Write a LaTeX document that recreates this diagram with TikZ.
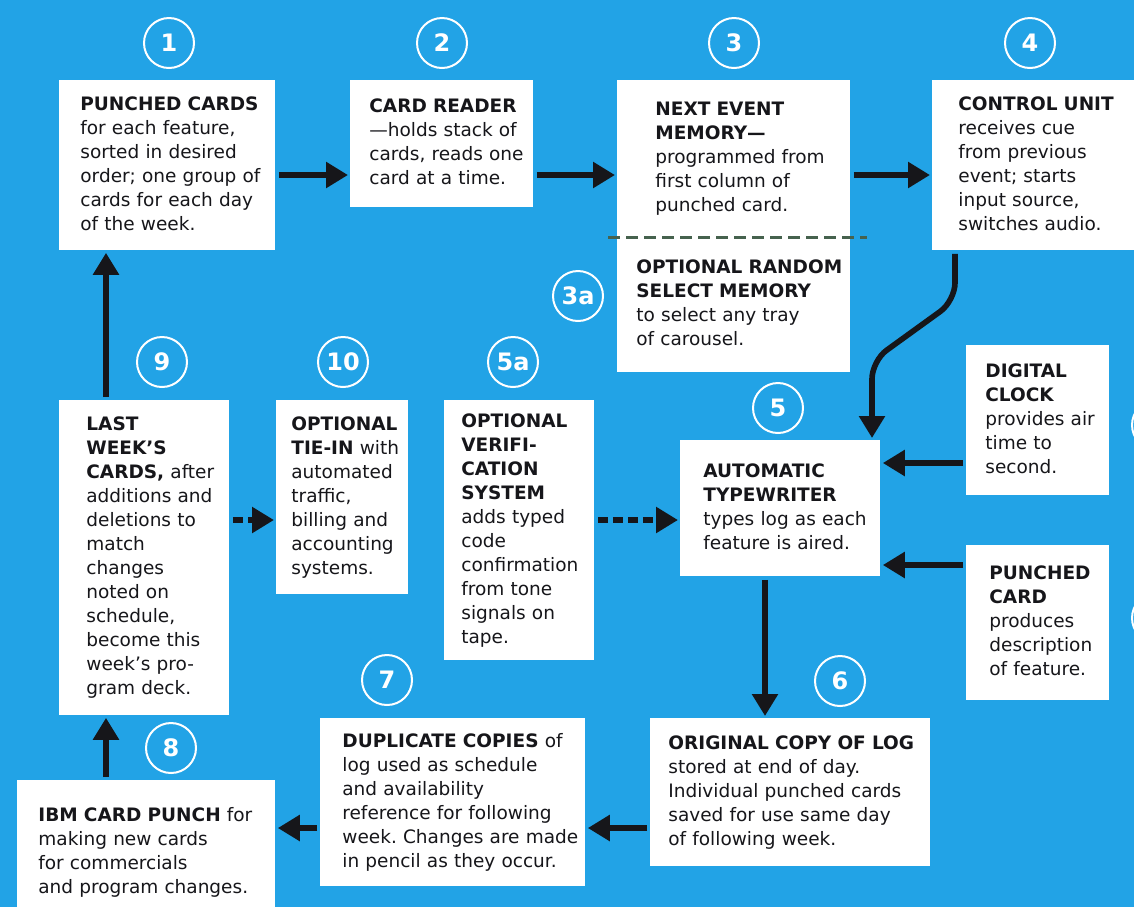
\documentclass[tikz,border=0pt]{standalone}
\usepackage{fontspec}
\setmainfont{DejaVu Sans}
\usetikzlibrary{arrows.meta}
\definecolor{sky}{RGB}{34,163,230}
\definecolor{ink}{RGB}{22,22,26}
\definecolor{seam}{RGB}{70,98,78}
\newcommand{\rows}[1]{\begin{tabular}{@{}l@{}}#1\end{tabular}}
\frenchspacing

\begin{document}
\begin{tikzpicture}[x=0.5pt,y=-0.5pt,
    card/.style={fill=white,anchor=north west,align=left,text=ink,
        inner ysep=0pt,font=\fontsize{9.25}{12}\selectfont},
    num/.style={circle,draw=white,line width=1pt,minimum size=25pt,inner sep=0pt,
        text=white,font=\fontsize{12}{12}\selectfont\bfseries},
    flow/.style={draw=ink,line width=2.8pt,-{Triangle[width=12.5pt,length=11pt]},
        shorten <=1.5pt,shorten >=1pt},
    maybe/.style={flow,dash pattern=on 5pt off 2.5pt}]
        \useasboundingbox(0,0)rectangle(1134,907);
        \fill[sky](0,0)rectangle(1134,907);

        % top row
        \node[card,text width=87pt,inner xsep=10.5pt,minimum height=85pt](b1)at(59,80){\rows{\textbf{PUNCHED CARDS}\\for each feature,\\sorted in desired\\order; one group of\\cards for each day\\of the week.}};
        \node[card,text width=72.5pt,inner xsep=9.5pt,minimum height=63.5pt](b2)at(350,80){\rows{\textbf{CARD READER}\\—holds stack of\\cards, reads one\\card at a time.}};
        \node[card,text width=78.5pt,inner xsep=19pt,minimum height=78.5pt](b3)at(617,80){\rows{\textbf{NEXT EVENT}\\\textbf{MEMORY—}\\programmed from\\first column of\\punched card.}};
        \node[card,text width=97.5pt,inner xsep=9.5pt,minimum height=67.5pt](b3a)at(617,237){\rows{\textbf{OPTIONAL RANDOM}\\\textbf{SELECT MEMORY}\\to select any tray\\of carousel.}};
        \node[card,text width=89pt,inner xsep=13pt,minimum height=85pt](b4)at(932,80){\rows{\textbf{CONTROL UNIT}\\receives cue\\from previous\\event; starts\\input source,\\switches audio.}};
        \draw[seam,line width=1.5pt,dash pattern=on 6pt off 3pt]([xshift=-4.5pt]b3.south west)--([xshift=8pt]b3.south east);

        % middle row
        \node[card,text width=58pt,inner xsep=13.5pt,minimum height=157.5pt](b9)at(59,400){\rows{\textbf{LAST}\\\textbf{WEEK'S}\\\textbf{CARDS,} after\\additions and\\deletions to\\match\\changes\\noted on\\schedule,\\become this\\week's pro-\\gram deck.}};
        \node[card,text width=51pt,inner xsep=7.5pt,minimum height=97pt](b10)at(276,400){\rows{\textbf{OPTIONAL}\\\textbf{TIE-IN} with\\automated\\traffic,\\billing and\\accounting\\systems.}};
        \node[card,text width=58pt,inner xsep=8.5pt,minimum height=130pt](b5a)at(444,400){\rows{\textbf{OPTIONAL}\\\textbf{VERIFI-}\\\textbf{CATION}\\\textbf{SYSTEM}\\adds typed\\code\\confirmation\\from tone\\signals on\\tape.}};
        \node[card,text width=77pt,inner xsep=11.5pt,minimum height=68pt](b5)at(680,440){\rows{\textbf{AUTOMATIC}\\\textbf{TYPEWRITER}\\types log as each\\feature is aired.}};
        \node[card,text width=52.5pt,inner xsep=9.5pt,minimum height=75pt](clk)at(966,345){\rows{\textbf{DIGITAL}\\\textbf{CLOCK}\\provides air\\time to\\second.}};
        \node[card,text width=48.5pt,inner xsep=11.5pt,minimum height=77.5pt](pc)at(966,545){\rows{\textbf{PUNCHED}\\\textbf{CARD}\\produces\\description\\of feature.}};

        % bottom row
        \node[card,text width=122pt,inner xsep=9pt,minimum height=74pt](b6)at(650,718){\rows{\textbf{ORIGINAL COPY OF LOG}\\stored at end of day.\\Individual punched cards\\saved for use same day\\of following week.}};
        \node[card,text width=110.5pt,inner xsep=11pt,minimum height=84pt](b7)at(320,718){\rows{\textbf{DUPLICATE COPIES} of\\log used as schedule\\and availability\\reference for following\\week. Changes are made\\in pencil as they occur.}};
        \node[card,text width=108pt,inner xsep=10.5pt,minimum height=72.5pt](b8)at(17,780){\rows{\textbf{IBM CARD PUNCH} for\\making new cards\\for commercials\\and program changes.}};

        % step numbers
        \node[num](n1)at(169,43){1};
        \node[num](n2)at(442,43){2};
        \node[num](n3)at(734,43){3};
        \node[num](n4)at(1030,43){4};
        \node[num](n3a)at(578,296){3a};
        \node[num](n9)at(162,362){9};
        \node[num](n10)at(343,362){10};
        \node[num](n5a)at(513,362){5a};
        \node[num](n5)at(778,408){5};
        \node[num](n6)at(840,681){6};
        \node[num](n7)at(387,680){7};
        \node[num](n8)at(171,748){8};
        \node[num](n11)at(1157,425){};
        \node[num](n12)at(1157,618){};

        \draw[flow](b1.east|-0,175)--(b2.west|-0,175);
        \draw[flow](b2.east|-0,175)--(b3.west|-0,175);
        \draw[flow](b3.east|-0,175)--(b4.west|-0,175);
        \draw[flow,rounded corners=9pt](b4.south-|955,0)--++(0,50)--++(-83,60)--(b5.north-|872,0);
        \draw[flow](clk.west|-0,463)--(b5.east|-0,463);
        \draw[flow](pc.west|-0,565)--(b5.east|-0,565);
        \draw[flow](b5.south-|765,0)--(b6.north-|765,0);
        \draw[flow](b6.west|-0,828)--(b7.east|-0,828);
        \draw[flow](b7.west|-0,828)--(b8.east|-0,828);
        \draw[flow](b8.north-|106,0)--(b9.south-|106,0);
        \draw[flow](b9.north-|106,0)--(b1.south-|106,0);
        \draw[maybe](b9.east|-0,520)--(b10.west|-0,520);
        \draw[maybe](b5a.east|-0,520)--(b5.west|-0,520);
    \end{tikzpicture}
\end{document}
